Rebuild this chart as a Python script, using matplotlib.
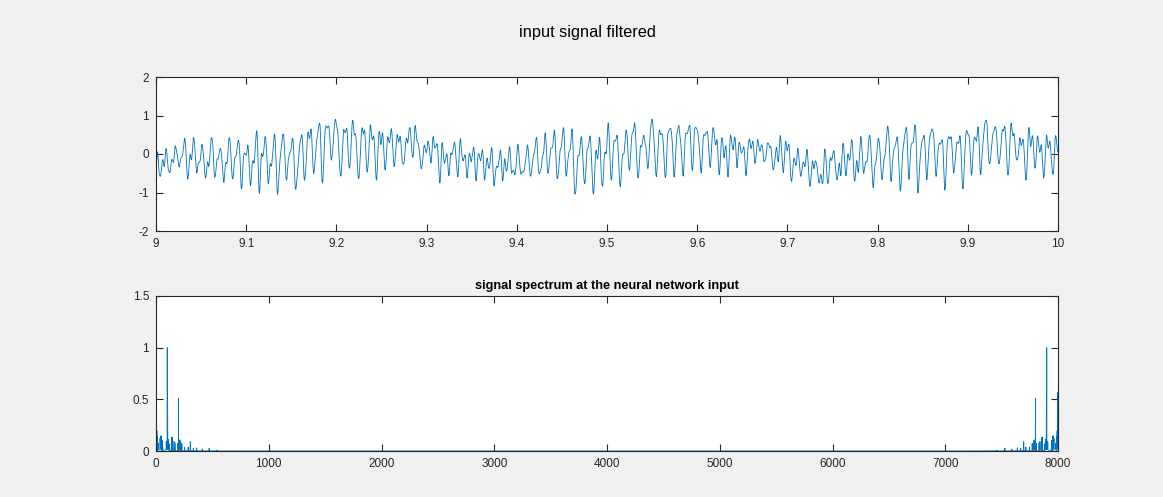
import numpy as np
import matplotlib
matplotlib.use("Agg")
import matplotlib.pyplot as plt

plt.rcParams["font.family"] = ["Liberation Sans", "DejaVu Sans"]
plt.rcParams["axes.unicode_minus"] = False

# sampling of the shown segment
fs = 8000
t_start = 9.0
t_end = 10.0
amp_100hz = 0.38

# main components (Hz, relative height, time of crest)
main_freq = [2.86, 100.0, 102.86, 200.0]
main_rel = [0.60, 1.00, 0.53, 0.53]
main_crest = [9.23, 9.17, 9.17, 9.012]

# small components forming the low-level clutter under 500 Hz
small_freq = [5.2, 8.1, 12.2, 19.1, 36.1, 41.8, 45.2, 54.1, 58.2, 91.2, 107.8, 121.1,
              140.9, 146.1, 160.2, 168.1, 194.1, 207.8, 215.2, 228.8, 252.8, 285.1,
              304.2, 330.8, 361.1, 410.2, 470.8, 540.2]
small_rel = [0.16, 0.20, 0.18, 0.08, 0.14, 0.17, 0.16, 0.10, 0.12, 0.10, 0.11, 0.07,
             0.14, 0.14, 0.10, 0.08, 0.08, 0.12, 0.11, 0.08, 0.04, 0.04,
             0.10, 0.03, 0.03, 0.02, 0.03, 0.01]
small_crest = [9.05, 9.31, 9.44, 9.08, 9.53, 9.19, 9.88, 9.14, 9.92, 9.81, 9.58, 9.75,
               9.21, 9.94, 9.68, 9.11, 9.24, 9.41, 9.73, 9.61, 9.35, 9.26,
               9.09, 9.64, 9.83, 9.57, 9.69, 9.13]

title_fig = "input signal filtered"
title_spec = "signal spectrum at the neural network input"
time_ticks = [9, 9.1, 9.2, 9.3, 9.4, 9.5, 9.6, 9.7, 9.8, 9.9, 10]
time_labels = ["9", "9.1", "9.2", "9.3", "9.4", "9.5", "9.6", "9.7", "9.8", "9.9", "10"]
sig_yticks = [-2, -1, 0, 1, 2]
spec_xticks = [0, 1000, 2000, 3000, 4000, 5000, 6000, 7000, 8000]
spec_yticks = [0, 0.5, 1, 1.5]
spec_ylabels = ["0", "0.5", "1", "1.5"]

# build the time signal from the listed components
n = int(fs * (t_end - t_start))
t = t_start + np.arange(n) / fs
y = np.zeros(n)
for f, r, tc in zip(main_freq + small_freq, main_rel + small_rel, main_crest + small_crest):
    y += r * amp_100hz * np.cos(2 * np.pi * f * (t - tc))

spec = np.abs(np.fft.fft(y))
spec = spec / spec.max()
bins = np.arange(n)

blue = "#0072BD"
axcol = "#262626"

fig = plt.figure(figsize=(11.63, 4.97), dpi=100)
fig.patch.set_facecolor("#f0f0f0")


def style(ax):
    ax.set_facecolor("white")
    for s in ax.spines.values():
        s.set_color(axcol)
        s.set_linewidth(0.8)
    ax.tick_params(direction="in", top=True, right=True, colors=axcol,
                   labelsize=8.5, length=5, width=0.8, pad=5)


ax1 = fig.add_axes([156 / 1163, 1 - 231 / 497, 902 / 1163, 154 / 497])
ax1.plot(t, y, color=blue, linewidth=0.6)
ax1.set_xlim(9, 10)
ax1.set_ylim(-2, 2)
ax1.set_xticks(time_ticks)
ax1.set_xticklabels(time_labels)
ax1.set_yticks(sig_yticks)
style(ax1)

ax2 = fig.add_axes([156 / 1163, 1 - 451 / 497, 902 / 1163, 155 / 497])
ax2.plot(bins, spec, color=blue, linewidth=0.6)
ax2.set_xlim(0, 8000)
ax2.set_ylim(0, 1.5)
ax2.set_xticks(spec_xticks)
ax2.set_yticks(spec_yticks)
ax2.set_yticklabels(spec_ylabels)
ax2.set_title(title_spec, fontsize=9.2, fontweight="bold", color="black", pad=5)
style(ax2)

fig.text(587 / 1163, 1 - 33 / 497, title_fig, ha="center", va="center",
         fontsize=11.8, color="black")

fig.savefig("out.png", dpi=100, facecolor=fig.get_facecolor())
